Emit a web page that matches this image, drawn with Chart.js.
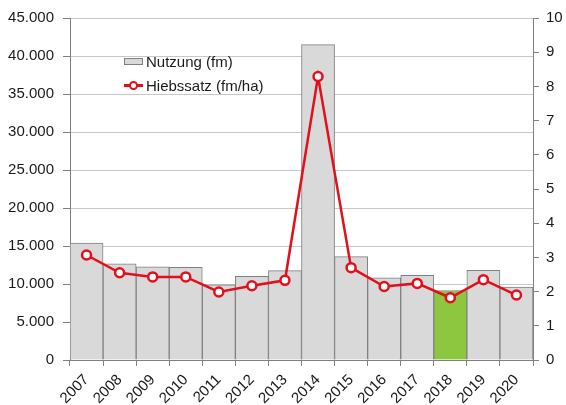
<!DOCTYPE html>
<html>
<head>
<meta charset="utf-8">
<script src="https://cdn.jsdelivr.net/npm/chart.js@4/dist/chart.umd.min.js"></script>
<style>
  html, body { margin: 0; padding: 0; background: #fff; }
  #wrap { position: relative; width: 566px; height: 405px; }
  canvas { display: block; }
  #legend { position: absolute; left: 124px; top: 49px; font-family: "Liberation Sans", Arial, sans-serif; font-size: 15px; color: #1a1a1a; }
  .row { display: flex; align-items: center; height: 24px; }
  .box { width: 19px; height: 7px; background: #d9d9d9; border: 1px solid #808080; margin-right: 3px; box-sizing: border-box; }
  .ln { position: relative; width: 19px; height: 10px; margin-right: 3px; }
  .ln:before { content: ""; position: absolute; left: 0; right: 0; top: 4px; height: 2.5px; background: #e2101c; }
  .ln:after { content: ""; position: absolute; left: 5px; top: 1px; width: 5px; height: 5px; border: 2.5px solid #e2101c; border-radius: 50%; background: #fff; }
</style>
</head>
<body>
<div id="wrap">
  <canvas id="c" width="566" height="405"></canvas>
  <div id="legend">
    <div class="row"><span class="box"></span><span>Nutzung (fm)</span></div>
    <div class="row"><span class="ln"></span><span>Hiebssatz (fm/ha)</span></div>
  </div>
</div>
<script>
const years = ["2007","2008","2009","2010","2011","2012","2013","2014","2015","2016","2017","2018","2019","2020"];
const nutzung = [15400, 12650, 12250, 12200, 9900, 11000, 11750, 41500, 13600, 10800, 11150, 9150, 11800, 9600];
const hiebssatz = [3.07, 2.55, 2.43, 2.43, 1.99, 2.17, 2.33, 8.29, 2.70, 2.15, 2.24, 1.82, 2.35, 1.90];
const highlightYear = "2018";

const barColors = years.map(y => y === highlightYear ? "#8dc63f" : "#d9d9d9");
const font = { family: "'Liberation Sans', Arial, sans-serif", size: 15 };

new Chart(document.getElementById("c"), {
  data: {
    labels: years,
    datasets: [
      {
        type: "line",
        label: "Hiebssatz (fm/ha)",
        data: hiebssatz,
        yAxisID: "y1",
        borderColor: "#e2101c",
        borderWidth: 2.5,
        pointBackgroundColor: "#fff",
        pointBorderColor: "#e2101c",
        pointBorderWidth: 2.5,
        pointRadius: 4.5,
        tension: 0,
        order: 0
      },
      {
        type: "bar",
        label: "Nutzung (fm)",
        data: nutzung,
        yAxisID: "y",
        backgroundColor: barColors,
        borderColor: "#808080",
        borderWidth: 1,
        categoryPercentage: 1,
        barPercentage: 1,
        order: 1
      }
    ]
  },
  options: {
    responsive: false,
    animation: false,
    layout: { padding: { top: 15, left: 0, right: 0, bottom: 0 } },
    plugins: { legend: { display: false }, tooltip: { enabled: false } },
    scales: {
      x: {
        offset: true,
        grid: { offset: true, drawOnChartArea: false, drawTicks: true, tickLength: 6, color: "#808080" },
        border: { color: "#808080", width: 1 },
        ticks: { font: font, color: "#1a1a1a", minRotation: 45, maxRotation: 45, padding: 5 },
        afterFit: s => { s.height = 45; }
      },
      y: {
        position: "left",
        min: 0, max: 45000,
        ticks: {
          stepSize: 5000, font: font, color: "#1a1a1a", padding: 9,
          callback: v => v.toLocaleString("de-DE")
        },
        grid: { color: "#c8c8c8", tickLength: 7, tickColor: "#808080" },
        border: { color: "#808080", width: 1 },
        afterFit: s => { s.width = 70; }
      },
      y1: {
        position: "right",
        min: 0, max: 10,
        ticks: { stepSize: 1, font: font, color: "#1a1a1a", padding: 7 },
        grid: { drawOnChartArea: false, tickLength: 6, color: "#808080" },
        border: { color: "#808080", width: 1 },
        afterFit: s => { s.width = 33; }
      }
    }
  }
});
</script>
</body>
</html>
